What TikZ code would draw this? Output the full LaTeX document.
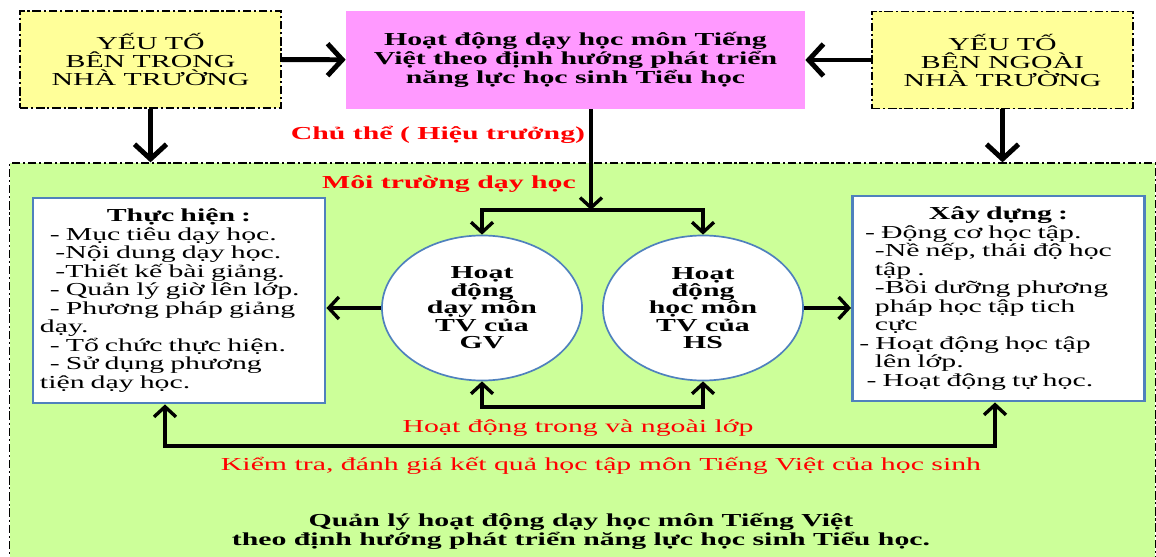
\documentclass[tikz,border=0pt]{standalone}
\usepackage{fontspec}
\setmainfont{Liberation Serif}[FakeStretch=1.63]
\usetikzlibrary{arrows.meta, shapes.geometric}

\definecolor{factorfill}{HTML}{FFFF99}
\definecolor{goalfill}{HTML}{FF99FF}
\definecolor{envfill}{HTML}{CCFF99}
\definecolor{boxblue}{HTML}{4F81BD}

\begin{document}
\begin{tikzpicture}[x=0.025cm, y=-0.025cm,
 >={Straight Barb[length=0pt 3, width=0pt 6.5]},
 font=\fontsize{13}{13}\selectfont,
 dashdot/.style={draw, line width=0.8pt, dash pattern=on 6pt off 2pt on 1.5pt off 2pt},
 factor box/.style={dashdot, fill=factorfill, minimum width=6.525cm, minimum height=2.425cm,
   align=center, font=\fontsize{13}{12.8}\selectfont},
 goal box/.style={fill=goalfill, minimum width=11.475cm, minimum height=2.45cm,
   align=center, font=\bfseries\fontsize{13}{13.5}\selectfont},
 env box/.style={dashdot, fill=envfill, minimum width=28.625cm, minimum height=10.1cm},
 list box/.style={draw=boxblue, line width=2pt, fill=white, minimum width=7.3cm,
   minimum height=5.125cm, text width=6.95cm, inner sep=3pt, align=left,
   font=\fontsize{13}{13.2}\selectfont},
 act node/.style={ellipse, draw=boxblue, line width=1.2pt, fill=white, minimum width=5cm,
   minimum height=3.625cm, inner sep=0pt, align=center, font=\bfseries\fontsize{13}{12.4}\selectfont},
 red label/.style={text=red, font=\fontsize{13}{13}\selectfont},
 red bold/.style={text=red, font=\bfseries\fontsize{13}{13}\selectfont},
 big arrow/.style={->, line width=3.5pt},
 mid arrow/.style={->, line width=2.4pt}]

 \useasboundingbox (0,0) rectangle (1156,557);

 % background of the school
 \node[env box] (env) at (582.5,365) {};

 % top row
 \node[factor box] (inL) at (150.5,59.5) {YẾU TỐ\\BÊN TRONG\\NHÀ TRƯỜNG};
 \node[goal box] (goal) at (575.5,60) {Hoạt động dạy học môn Tiếng\\Việt theo định hướng phát triển\\năng lực học sinh Tiểu học};
 \node[factor box] (inR) at (1002.5,60) {YẾU TỐ\\BÊN NGOÀI\\NHÀ TRƯỜNG};

 \node[red bold] (subj) at (438,135) {Chủ thể ( Hiệu trưởng)};
 \node[red bold] (envlab) at (449,184) {Môi trường dạy học};

 % the two activities
 \node[act node] (teach) at (482,308) {Hoạt\\động\\dạy môn\\TV của\\GV};
 \node[act node] (learn) at (703,308) {Hoạt\\động\\học môn\\TV của\\HS};

 \node[list box] (doL) at (179,300.5) {\makebox[\linewidth]{\textbf{Thực hiện :}}\\
  \hspace*{7pt}- Mục tiêu dạy học.\\
  \hspace*{11pt}-Nội dung dạy học.\\
  \hspace*{11pt}-Thiết kế bài giảng.\\
  \hspace*{7pt}- Quản lý giờ lên lớp.\\
  \hspace*{7pt}- Phương pháp giảng\\
  dạy.\\
  \hspace*{7pt}- Tổ chức thực hiện.\\
  \hspace*{7pt}- Sử dụng phương\\
  tiện dạy học.};
 \node[list box] (buildR) at (998.5,298.5) {\makebox[\linewidth]{\textbf{Xây dựng :}}\\
  \hspace*{4pt}- Động cơ học tập.\\
  \hspace*{11pt}-Nề nếp, thái độ học\\
  \hspace*{11pt}tập .\\
  \hspace*{11pt}-Bồi dưỡng phương\\
  \hspace*{11pt}pháp học tập tich\\
  \hspace*{11pt}cực\\
  - Hoạt động học tập\\
  \hspace*{11pt}lên lớp.\\
  \hspace*{5pt}- Hoạt động tự học.};

 \node[red label] (inout) at (578,428) {Hoạt động trong và ngoài lớp};
 \node[red label] (check) at (601,466) {Kiểm tra, đánh giá kết quả học tập môn Tiếng Việt của học sinh};
 \node[align=center, font=\bfseries\fontsize{13}{13.5}\selectfont] (mgmt) at (581,531)
  {Quản lý hoạt động dạy học môn Tiếng Việt\\theo định hướng phát triển năng lực học sinh Tiểu học.};

 \coordinate (split) at (591,210);
 \coordinate (join) at (591,407);
 \coordinate (evalL) at (165,446);
 \coordinate (evalR) at (995,446);

 % connectors
 \foreach \s/\t in {inL/goal, inR/goal} {
  \path[draw, big arrow] (\s) edge (\t);}
 \foreach \s in {inL, inR} {
  \draw[big arrow] (\s.south) -- (\s.south |- env.north);}
 \draw[mid arrow] (split |- goal.south) -- (split);
 \foreach \t in {teach, learn} {
  \draw[mid arrow] (split) -| (\t.north);}
 \draw[mid arrow, <->] (teach.south) |- (join) -| (learn.south);
 \draw[mid arrow] (teach.west) -- (teach.west -| doL.east);
 \draw[mid arrow] (learn.east) -- (learn.east -| buildR.west);
 \draw[mid arrow, <->] (evalL |- doL.south) -- (evalL) -- (evalR) -- (evalR |- buildR.south);
\end{tikzpicture}
\end{document}
